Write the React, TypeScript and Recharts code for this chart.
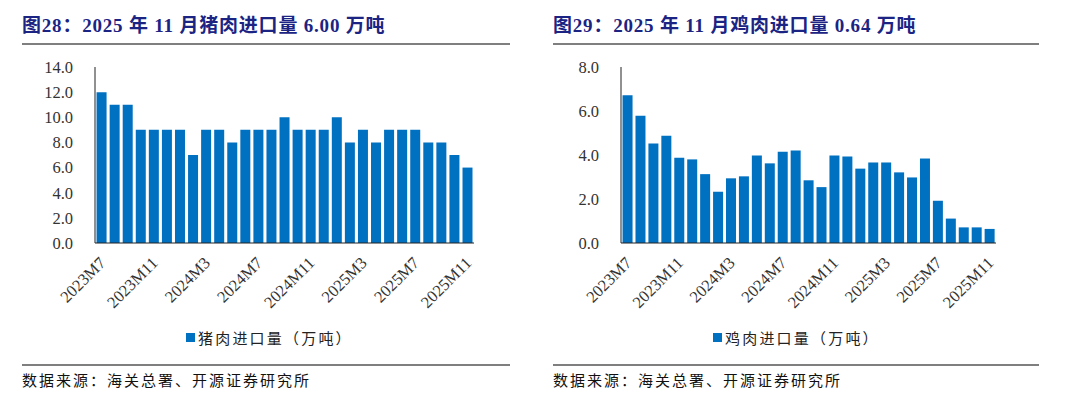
import React from 'react';
import { BarChart, Bar, XAxis, YAxis } from 'recharts';

const months = [
  '2023M7', '2023M8', '2023M9', '2023M10', '2023M11', '2023M12',
  '2024M1', '2024M2', '2024M3', '2024M4', '2024M5', '2024M6',
  '2024M7', '2024M8', '2024M9', '2024M10', '2024M11', '2024M12',
  '2025M1', '2025M2', '2025M3', '2025M4', '2025M5', '2025M6',
  '2025M7', '2025M8', '2025M9', '2025M10', '2025M11',
];

const porkImports = [12, 11, 11, 9, 9, 9, 9, 7, 9, 9, 8, 9, 9, 9, 10, 9, 9, 9, 10, 8, 9, 8, 9, 9, 9, 8, 8, 7, 6];
const chickenImports = [
  6.72, 5.78, 4.52, 4.88, 3.88, 3.8, 3.13, 2.33, 2.94, 3.03, 3.98, 3.62, 4.15, 4.2,
  2.85, 2.54, 3.98, 3.93, 3.38, 3.66, 3.66, 3.21, 2.98, 3.84, 1.92, 1.11, 0.71, 0.71, 0.64,
];

const porkTicks = [0, 2, 4, 6, 8, 10, 12, 14];
const chickenTicks = [0, 2, 4, 6, 8];

const BLUE = '#0070C0';
const SERIF = '"Liberation Serif", "Times New Roman", "Noto Sans CJK SC", serif';
const CJK = '"Liberation Serif", "Noto Sans CJK SC", serif';

const MonthTick = (props: any) => {
  const { x, y, payload } = props;
  return (
    <g transform={`translate(${x + 5},${y + 13})`}>
      <text
        x={0}
        y={0}
        textAnchor="end"
        transform="rotate(-45)"
        fontSize={16.5}
        fontFamily={SERIF}
        fill="#333"
      >
        {payload.value}
      </text>
    </g>
  );
};

interface PanelProps {
  left: number;
  title: string;
  name: string;
  values: number[];
  ticks: number[];
  yWidth: number;
  rightGap: number;
  legendLeft: number;
  lineWidth: number;
}

const Panel = ({ left, title, name, values, ticks, yWidth, rightGap, legendLeft, lineWidth }: PanelProps) => {
  const data = months.map((m, i) => ({ month: m, value: values[i] }));
  return (
    <div style={{ position: 'absolute', left, top: 0, width: 540, height: 396 }}>
      <div
        style={{
          position: 'absolute', left: 22, top: 10, fontFamily: CJK, fontWeight: 'bold',
          fontSize: 19, letterSpacing: 0.8, color: '#1B2483', whiteSpace: 'nowrap',
        }}
      >
        {title}
      </div>
      <div style={{ position: 'absolute', left: 22, top: 43, width: lineWidth, height: 2, background: '#7f7f7f' }} />
      <div style={{ position: 'absolute', left: 0, top: 55 }}>
        <BarChart
          width={520}
          height={260}
          data={data}
          margin={{ top: 12, right: rightGap, left: 0, bottom: 0 }}
          barCategoryGap="12%"
        >
          <XAxis
            dataKey="month"
            interval={3}
            height={72}
            tick={<MonthTick />}
            tickLine={false}
            axisLine={{ stroke: '#222' }}
          />
          <YAxis
            width={yWidth}
            domain={[ticks[0], ticks[ticks.length - 1]]}
            ticks={ticks}
            tickFormatter={(v: number) => v.toFixed(1)}
            tick={{ fontSize: 16.5, fontFamily: SERIF, fill: '#333' }}
            tickLine={false}
            tickMargin={16}
            axisLine={{ stroke: '#222' }}
          />
          <Bar dataKey="value" fill={BLUE} isAnimationActive={false} />
        </BarChart>
      </div>
      <div
        style={{
          position: 'absolute', left: legendLeft, top: 327, display: 'flex', alignItems: 'center',
          fontFamily: CJK, fontSize: 15, letterSpacing: 2.2, color: '#222', whiteSpace: 'nowrap',
        }}
      >
        <span style={{ display: 'inline-block', width: 9, height: 9, background: BLUE, marginRight: 3 }} />
        {name}
      </div>
      <div style={{ position: 'absolute', left: 22, top: 364, width: lineWidth, height: 1.5, background: '#7f7f7f' }} />
      <div
        style={{
          position: 'absolute', left: 22, top: 369, fontFamily: CJK, fontSize: 15, letterSpacing: 2,
          color: '#111', whiteSpace: 'nowrap',
        }}
      >
        数据来源：海关总署、开源证券研究所
      </div>
    </div>
  );
};

export default function App() {
  return (
    <div style={{ position: 'absolute', left: 0, top: 0, width: 1080, height: 396, background: '#fff' }}>
      <Panel
        left={0}
        title="图28：2025 年 11 月猪肉进口量 6.00 万吨"
        name="猪肉进口量（万吨）"
        values={porkImports}
        ticks={porkTicks}
        yWidth={95}
        rightGap={46}
        legendLeft={186}
        lineWidth={488}
      />
      <Panel
        left={531}
        title="图29：2025 年 11 月鸡肉进口量 0.64 万吨"
        name="鸡肉进口量（万吨）"
        values={chickenImports}
        ticks={chickenTicks}
        yWidth={90}
        rightGap={55}
        legendLeft={182}
        lineWidth={486}
      />
    </div>
  );
}
